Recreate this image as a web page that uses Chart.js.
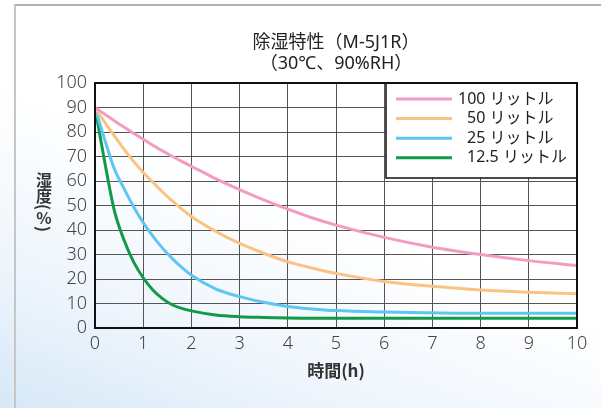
<!DOCTYPE html>
<html>
<head>
<meta charset="utf-8">
<script src="https://cdn.jsdelivr.net/npm/chart.js@4"></script>
<style>
html, body { margin: 0; padding: 0; }
body {
    width: 601px; height: 408px; overflow: hidden;
    background: linear-gradient(22deg, #d6e8f7 0%, #eef5fc 22%, #ffffff 50%);
}
#frame {
    position: absolute; left: 14px; top: 4px; right: 0; bottom: 0;
    border-top: 2px solid #b2b2b2; border-left: 2px solid #c6c6c6;
}
#wrap { position: absolute; left: 0; top: 0; width: 601px; height: 408px; }
#ytitle {
    position: absolute; left: 35px; top: 172px;
    writing-mode: vertical-rl; text-orientation: mixed;
    font: bold 16px 'Noto Sans CJK JP', sans-serif; line-height: 18px;
    color: #333;
}
#ytitle .up { text-orientation: upright; }
</style>
</head>
<body>
<div id="frame"></div>
<div id="wrap"><canvas id="chart"></canvas></div>
<div id="ytitle"></div>
<script>
// Time axis (h) and humidity (%)
const hours     = [0, 0.2, 0.4, 0.6, 0.8, 1, 1.2, 1.4, 1.6, 1.8, 2, 2.5, 3, 3.5, 4, 4.5, 5, 6, 7, 8, 9, 10];
const litre100  = [90, 87.3, 84.6, 82, 79.5, 77, 74.6, 72.3, 70.1, 68, 66, 61, 56.5, 52.3, 48.5, 45, 42, 37, 33, 30, 27.5, 25.5];
const litre50   = [90, 84, 78.5, 73, 68, 63.5, 59.5, 55.5, 52, 48.5, 45.5, 39.5, 34.5, 30.5, 27, 24.5, 22.3, 19, 17, 15.5, 14.6, 14];
const litre25   = [90, 77, 65, 57, 49.5, 43, 37.5, 32.6, 28.4, 24.7, 21.5, 16, 12.8, 10.5, 8.8, 7.8, 7.1, 6.5, 6.2, 6, 6, 6];
const litre12_5 = [90, 68, 48, 36, 27, 20.5, 15.5, 12, 9.5, 8, 7, 5.3, 4.6, 4.3, 4.1, 4, 4, 4, 4, 4, 4, 4];

const seriesLabels = ['100 リットル', '50 リットル', '25 リットル', '12.5 リットル'];
const seriesColors = ['#f39cc3', '#fbc383', '#5ec6f1', '#13994a'];
const titleLines = ['除湿特性（M-5J1R）', '（30℃、90%RH）'];
const yTitle = '湿度(%)';
const xTitle = '時間(h)';

const latin = "'Noto Sans', 'Noto Sans CJK JP', sans-serif";

// vertical y title: kanji and % upright, brackets turned
const yEl = document.getElementById('ytitle');
for (const ch of yTitle) {
    const s = document.createElement('span');
    s.textContent = ch;
    if (ch !== '(' && ch !== ')') s.className = 'up';
    yEl.appendChild(s);
}

const allSeries = [litre100, litre50, litre25, litre12_5];
const datasets = allSeries.map((vals, i) => ({
    label: seriesLabels[i],
    data: hours.map((h, j) => ({ x: h, y: vals[j] })),
    borderColor: seriesColors[i],
    borderWidth: 3,
    pointRadius: 0,
    cubicInterpolationMode: 'monotone',
    fill: false,
}));

// box round the plot and the legend
const decorations = {
    id: 'decorations',
    afterDraw(chart) {
        const ctx = chart.ctx;
        const a = chart.chartArea;
        ctx.save();

        // legend box in the top right corner of the plot
        const lx = 386, ly = a.top, lw = a.right - 386, lh = 95;
        ctx.fillStyle = '#ffffff';
        ctx.fillRect(lx, ly, lw, lh);
        ctx.strokeStyle = '#111';
        ctx.lineWidth = 1.5;
        ctx.strokeRect(lx, ly, lw, lh);
        ctx.font = "16px " + latin;
        ctx.textBaseline = 'middle';
        ctx.fillStyle = '#222';
        chart.data.datasets.forEach((ds, i) => {
            const y = ly + 16 + i * 19.6;
            ctx.strokeStyle = ds.borderColor;
            ctx.lineWidth = 3;
            ctx.beginPath();
            ctx.moveTo(396, y);
            ctx.lineTo(452, y);
            ctx.stroke();
            ctx.fillText(ds.label, i === 0 ? 458 : 467, y);
        });

        // plot frame
        ctx.strokeStyle = '#111';
        ctx.lineWidth = 2;
        ctx.strokeRect(a.left, a.top, a.right - a.left, a.bottom - a.top);
        ctx.restore();
    }
};

const ctx = document.getElementById('chart').getContext('2d');
new Chart(ctx, {
    type: 'line',
    data: { datasets },
    options: {
        responsive: true,
        maintainAspectRatio: false,
        animation: false,
        layout: { padding: { left: 0, right: 24, top: 0, bottom: 0 } },
        plugins: {
            legend: { display: false },
            tooltip: { enabled: false },
            title: {
                display: true,
                fullSize: false,
                text: titleLines,
                color: '#222',
                font: { family: latin, size: 18, weight: 'normal', lineHeight: 1.15 },
                padding: { top: 33, bottom: 8.6 },
            },
        },
        scales: {
            x: {
                type: 'linear',
                min: 0,
                max: 10,
                ticks: { stepSize: 1, autoSkip: false, padding: 5, color: '#444', font: { family: latin, size: 18, weight: 300 } },
                grid: { color: '#555', lineWidth: 1, drawTicks: false },
                border: { color: '#111', width: 2 },
                title: {
                    display: true,
                    text: xTitle,
                    color: '#333',
                    font: { family: "'Noto Sans CJK JP', sans-serif", size: 17, weight: 'bold', lineHeight: 1.2 },
                    padding: { top: 4, bottom: 27 },
                },
                afterFit(scale) { scale.height = 80; },
            },
            y: {
                min: 0,
                max: 100,
                ticks: { stepSize: 10, autoSkip: false, padding: 8, color: '#444', font: { family: latin, size: 18, weight: 300 } },
                grid: { color: '#555', lineWidth: 1, drawTicks: false },
                border: { color: '#111', width: 2 },
                afterFit(scale) { scale.width = 95; },
            },
        },
    },
    plugins: [decorations],
});
</script>
</body>
</html>
